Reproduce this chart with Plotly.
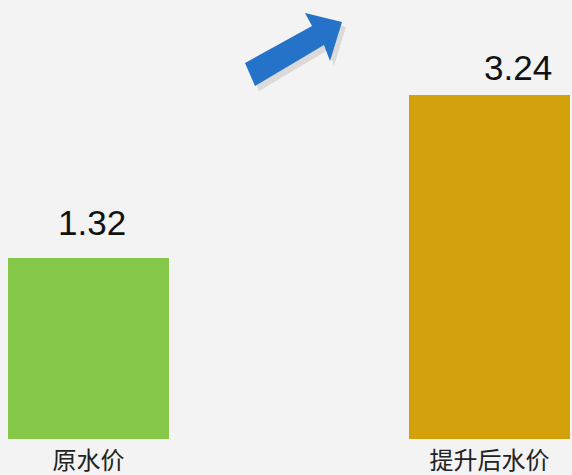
import plotly.graph_objects as go

# ---- data ----
categories = ["原水价", "提升后水价"]
values = [1.32, 3.24]
value_labels = ["1.32", "3.24"]

# ---- style constants ----
W, H = 572, 475
MARGIN_B = 36
PLOT_H = H - MARGIN_B
BASE = -0.812           # bar baseline in value units (as in reference)
Y_TOP = 4.359
X_RANGE = [-0.2207, 1.2057]
BAR_W = 0.4015
bar_colors = ["#86c84a", "#d3a10c"]
label_shift = [(3, 14), (28, 6)]   # (xshift, yshift) for the value labels


def px_to_paper(px, py):
    return px / W, (PLOT_H - py) / PLOT_H


fig = go.Figure()
fig.add_trace(go.Bar(
    x=categories,
    y=[v - BASE for v in values],
    base=[BASE] * len(values),
    width=BAR_W,
    marker=dict(color=bar_colors, line=dict(width=0)),
    hovertext=value_labels,
    hoverinfo="x+text",
    showlegend=False,
))

annotations = []
for i, (c, v, t) in enumerate(zip(categories, values, value_labels)):
    xs, ys = label_shift[i]
    annotations.append(dict(
        x=c, y=v, xref="x", yref="y", text=t, showarrow=False,
        yanchor="bottom", xanchor="center", xshift=xs, yshift=ys,
        font=dict(family="Liberation Sans, Arial, sans-serif", size=35, color="#111111"),
    ))

# decorative arrow (pixel outline -> paper coords)
arrow_px = [(245, 63), (312, 26), (305, 13), (342, 22), (330, 61), (324, 45), (255, 86)]


def make_path(pts, dx=0, dy=0):
    segs = []
    for k, (a, b) in enumerate(pts):
        px, py = px_to_paper(a + dx, b + dy)
        segs.append(("M" if k == 0 else "L") + f"{px:.4f},{py:.4f}")
    return " ".join(segs) + " Z"


shapes = [
    dict(type="path", xref="paper", yref="paper", path=make_path(arrow_px, 4, 5),
         fillcolor="rgba(0,0,0,0.10)", line=dict(width=0), layer="below"),
    dict(type="path", xref="paper", yref="paper", path=make_path(arrow_px),
         fillcolor="#2473c8", line=dict(width=0), layer="above"),
]

fig.update_layout(
    width=W, height=H,
    margin=dict(l=0, r=0, t=0, b=MARGIN_B, pad=0),
    paper_bgcolor="#f3f3f3",
    plot_bgcolor="rgba(0,0,0,0)",
    bargap=0,
    annotations=annotations,
    shapes=shapes,
    xaxis=dict(
        type="category", range=X_RANGE, showgrid=False, zeroline=False,
        showline=False, ticks="", ticklabelstandoff=5,
        tickfont=dict(family="Noto Sans CJK SC", size=24, color="#222222"),
        fixedrange=True,
    ),
    yaxis=dict(
        range=[BASE, Y_TOP], visible=False, showgrid=False, zeroline=False,
        fixedrange=True,
    ),
)

fig.write_html(
    "out.html",
    config={"displayModeBar": False},
    post_script="document.body.style.margin='0';document.body.style.padding='0';"
                "document.body.style.overflow='hidden';",
)
